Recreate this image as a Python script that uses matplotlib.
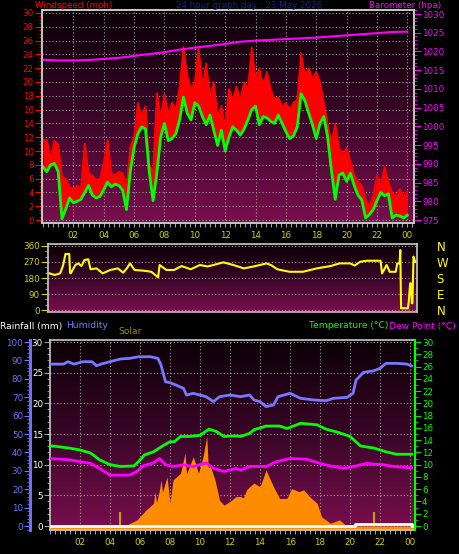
import numpy as np
import matplotlib
matplotlib.use('Agg')
import matplotlib.pyplot as plt
from matplotlib.colors import LinearSegmentedColormap
from matplotlib.ticker import MultipleLocator, FixedLocator

# wind, 15 minute readings from 00:00 to 24:00
wind_hours = np.arange(0, 24.01, 0.25)
wind_avg = [7.7, 7.0, 8.0, 8.2, 7.0, 0.2, 1.6, 3.2, 2.5, 2.7, 3.0, 4.0, 5.0, 3.6, 3.2, 3.4,
            4.4, 5.5, 4.8, 5.2, 5.0, 4.3, 1.5, 7.0, 10.5, 12.5, 13.5, 13.2, 7.0, 2.8, 6.8, 12.0,
            14.0, 11.5, 11.8, 12.5, 14.5, 17.8, 15.5, 14.5, 17.0, 16.5, 15.0, 13.8, 15.2, 13.0, 10.8, 13.0,
            10.0, 12.0, 13.5, 13.0, 12.3, 13.2, 14.5, 16.0, 16.5, 13.8, 15.0, 14.8, 14.3, 14.0, 15.2, 14.0,
            12.8, 11.8, 12.2, 13.5, 18.3, 17.3, 15.5, 13.8, 11.8, 14.0, 15.0, 12.0, 7.2, 3.0, 6.5, 6.8,
            5.6, 6.8, 5.0, 3.6, 2.9, 0.3, 0.8, 1.5, 2.8, 4.0, 3.5, 3.8, 0.3, 0.7, 0.6, 0.3,
            0.7]
wind_gust = [11.6, 11.6, 9.0, 11.5, 11.0, 6.3, 6.0, 4.8, 4.5, 5.0, 4.6, 11.1, 6.8, 6.5, 5.8, 6.0,
             8.3, 11.6, 6.8, 6.5, 7.0, 6.8, 4.8, 10.6, 12.0, 17.0, 15.0, 16.5, 8.0, 7.0, 18.4, 15.0,
             18.2, 15.5, 17.0, 16.0, 19.3, 25.1, 21.0, 19.0, 20.0, 25.0, 19.5, 22.7, 18.0, 20.0, 15.0, 16.5,
             13.5, 19.0, 17.5, 19.3, 17.5, 20.0, 19.0, 25.0, 20.5, 22.0, 19.5, 21.5, 19.0, 17.5, 17.8, 16.5,
             17.0, 16.0, 17.0, 17.5, 24.2, 21.0, 22.0, 20.5, 21.5, 20.0, 17.0, 14.0, 11.0, 14.0, 10.5, 9.5,
             10.5, 8.5, 6.5, 5.5, 5.0, 3.0, 2.0, 3.5, 6.5, 5.0, 7.7, 5.5, 4.0, 3.5, 4.5, 3.5,
             4.2]

baro_hours = list(range(25))
baro = [1017.8, 1017.6, 1017.6, 1017.7, 1018.0, 1018.3, 1018.8, 1019.3, 1019.8, 1020.5,
        1021.0, 1021.5, 1022.0, 1022.6, 1022.9, 1023.1, 1023.3, 1023.5, 1023.7, 1024.0,
        1024.3, 1024.6, 1024.9, 1025.2, 1025.3]

dir_hours = [0.0, 0.35, 0.7, 0.9, 1.05, 1.1, 1.3, 1.35, 1.4, 1.7, 1.9, 2.1, 2.3, 2.55, 2.7, 3.1,
             3.5, 4.0, 4.5, 4.85, 5.1, 5.3, 5.6, 6.2, 6.7, 7.15, 7.25, 7.7, 8.2, 8.7, 9.3, 9.9,
             10.4, 10.8, 11.45, 12.1, 12.8, 13.4, 14.3, 14.6, 15.0, 15.8, 16.7, 17.6, 18.5, 19.1,
             19.8, 20.1, 20.45, 20.9, 21.8, 21.85, 21.9, 22.2, 22.4, 22.8, 22.9, 23.05, 23.1, 23.15,
             23.6, 23.65, 23.75, 23.8, 23.86, 23.9, 23.97, 24.08]
dir_deg = [206, 197, 206, 253, 315, 315, 315, 210, 206, 253, 262, 247, 281, 285, 229, 234,
           206, 225, 234, 210, 235, 262, 225, 221, 215, 184, 253, 225, 225, 247, 229, 253,
           245, 253, 268, 253, 234, 244, 262, 252, 229, 215, 215, 234, 247, 262,
           262, 250, 271, 277, 277, 240, 206, 253, 215, 215, 262, 262, 337, 10,
           10, 40, 150, 150, 38, 38, 300, 271]

hum_hours = [0.0, 0.9, 1.2, 1.6, 2.2, 2.8, 3.1, 3.4, 4.0, 4.7, 5.3, 5.9, 6.7, 7.2, 7.4, 7.7,
             8.0, 8.4, 8.9, 9.1, 9.55, 10.0, 10.4, 10.9, 11.3, 12.0, 12.7, 13.3, 13.6, 14.0,
             14.4, 14.9, 15.2, 16.0, 16.7, 17.6, 18.4, 18.9, 19.8, 20.2, 20.4, 20.9, 21.6, 22.0,
             22.4, 23.1, 23.8, 24.1]
humidity = [88, 88, 89.3, 88, 89.3, 89.3, 87.1, 88, 89.3, 90.8, 91.1, 92, 92, 91.1, 87.5, 78.4,
            77.9, 76.6, 74.8, 71.2, 72.1, 71.2, 70.3, 67.6, 70.3, 71.2, 70.3, 71.2, 68.5, 67.6,
            64.9, 65.8, 70.3, 72.1, 69.4, 68.5, 68.1, 69.4, 69.9, 72.1, 79.3, 83.5, 84.4, 85.7,
            88.4, 88.4, 88, 87]

temp_hours = [0.0, 1.3, 2.0, 2.7, 3.3, 4.0, 4.7, 5.6, 5.9, 6.3, 6.9, 7.6, 8.0, 8.3, 8.7, 9.3,
              10.0, 10.6, 11.1, 11.6, 12.4, 12.7, 13.3, 13.6, 14.4, 15.3, 15.8, 16.7, 17.8, 18.4,
              19.3, 20.0, 20.7, 21.6, 22.4, 23.1, 24.1]
temperature = [13.1, 12.7, 12.4, 11.9, 10.8, 10.0, 9.7, 9.8, 10.5, 11.6, 12.1, 13.2, 13.75, 13.75,
               14.6, 14.6, 14.8, 15.8, 15.4, 14.6, 14.7, 14.6, 15.1, 15.7, 16.3, 16.3, 15.9, 16.75,
               16.5, 15.8, 15.2, 14.6, 13.05, 12.7, 12.1, 11.7, 11.7]

dew_hours = [0.0, 1.3, 2.0, 2.7, 3.3, 4.0, 4.7, 5.3, 5.8, 6.2, 6.9, 7.3, 7.7, 8.2, 8.9, 9.55,
             10.4, 10.9, 11.6, 12.4, 12.7, 13.3, 13.6, 14.4, 15.1, 16.0, 17.1, 18.0, 18.7, 19.6,
             20.4, 21.1, 22.2, 22.9, 24.1]
dew_point = [11.0, 10.8, 10.5, 10.2, 9.4, 8.3, 8.3, 8.3, 8.9, 9.8, 10.3, 11.0, 10.0, 9.7, 10.0, 9.7,
             10.3, 9.4, 8.9, 9.4, 9.1, 9.7, 9.7, 9.7, 10.5, 11.0, 10.9, 10.2, 9.8, 9.4,
             9.8, 10.2, 10.0, 9.7, 9.5]

# solar is drawn on the 0-30 scale of the lower graph
solar_hours = [0.0, 5.0, 5.1, 5.8, 6.4, 6.9, 7.0, 7.1, 7.3, 7.4, 7.5, 7.8, 8.0, 8.2, 8.7, 9.0,
               9.1, 9.3, 9.55, 9.9, 10.2, 10.45, 10.55, 10.7, 11.0, 11.3, 11.6, 12.0, 12.4, 12.7,
               12.9, 13.1, 13.3, 13.6, 14.0, 14.4, 14.9, 15.3, 15.8, 16.1, 16.6, 16.9, 17.3, 17.8,
               18.1, 18.7, 19.3, 19.7, 20.0, 24.3]
solar = [0, 0, 0.15, 1.0, 2.6, 3.7, 5.6, 3.8, 5.9, 7.5, 5.5, 8.0, 3.7, 7.5, 8.6, 11.9,
         8.5, 9.7, 11.3, 8.6, 11.3, 14.6, 9.5, 9.7, 7.5, 4.2, 3.4, 4.0, 4.8, 4.8,
         4.6, 5.9, 6.4, 7.0, 6.4, 9.1, 6.4, 4.5, 4.5, 6.1, 5.6, 5.9, 4.8, 3.7,
         1.5, 0.45, 1.0, 0.15, 0, 0]
solar_spike_hours = [4.67, 21.6]
solar_spikes = [2.3, 2.3]

rain_hours = [0.0, 20.3, 24.0, 24.1]
rainfall = [0.0, 0.25, 0.25, 0.0]

hour_ticks = list(range(2, 25, 2))
hour_labels = ['%02d' % (h % 24) for h in hour_ticks]
dir_ticks = [0, 90, 180, 270, 360]
compass = ['N', 'E', 'S', 'W', 'N']

W, H = 460, 554
BG = LinearSegmentedColormap.from_list('bg', ['#0a0006', '#3a0628', '#7a0e4e'])
FRAME = '#c8c8c8'
HOUR_COLOR = '#d8d000'
FS = 6.3


def box(x0, y0, x1, y1):
    """Turns a pixel box of the 460x554 picture into figure fractions"""
    return [x0 / W, 1 - y1 / H, (x1 - x0) / W, (y1 - y0) / H]


def gradient(ax):
    """Paints the dark to crimson background of a graph"""
    x0, x1 = ax.get_xlim()
    y0, y1 = ax.get_ylim()
    ax.imshow(np.linspace(0, 1, 256).reshape(-1, 1), cmap=BG, aspect='auto',
              extent=(x0, x1, y0, y1), origin='upper', zorder=0)
    ax.set_xlim(x0, x1)
    ax.set_ylim(y0, y1)


def frame(ax):
    for s in ax.spines.values():
        s.set_color(FRAME)
        s.set_linewidth(1.2)


def hour_axis(ax, labels=True):
    ax.xaxis.set_major_locator(FixedLocator(hour_ticks))
    ax.xaxis.set_minor_locator(MultipleLocator(1 / 3))
    if labels:
        ax.set_xticklabels(hour_labels)
    else:
        ax.set_xticklabels([])
    ax.tick_params(axis='x', which='both', colors='#a0a0a0', labelcolor=HOUR_COLOR,
                   labelsize=FS, length=3, width=0.8, pad=3)


def wind_graph(fig):
    """Windspeed and barometer graph"""
    ax = fig.add_axes(box(42, 10, 414, 223))
    ax.set_xlim(-0.066, 24.44)
    ax.set_ylim(-0.43, 30.43)
    gradient(ax)
    ax.grid(True, color='#9a9a9a', linestyle=(0, (1, 2)), linewidth=0.8, zorder=1)
    ax.fill_between(wind_hours, wind_avg, wind_gust, color='#ff0000', lw=0, zorder=2)
    ax.plot(wind_hours, wind_gust, color='#ff0000', lw=1.2, zorder=2)
    ax.plot(wind_hours, wind_avg, color='#00ff00', lw=2, zorder=3)
    hour_axis(ax)
    ax.yaxis.set_major_locator(MultipleLocator(2))
    ax.yaxis.set_minor_locator(MultipleLocator(0.5))
    ax.tick_params(axis='y', which='both', colors='#ff0000', labelsize=FS, pad=1)
    ax.tick_params(axis='y', which='major', length=5)
    ax.tick_params(axis='y', which='minor', length=2.5)
    frame(ax)

    bx = ax.twinx()
    bx.set_ylim(974.2, 1031.07)
    bx.plot(baro_hours, baro, color='#ff00ff', lw=1.5)
    bx.yaxis.set_major_locator(MultipleLocator(5))
    bx.yaxis.set_minor_locator(MultipleLocator(1))
    bx.tick_params(axis='y', which='both', colors='#ff00ff', labelsize=FS, pad=1)
    bx.tick_params(axis='y', which='major', length=5)
    bx.tick_params(axis='y', which='minor', length=2.5)
    frame(bx)


def direction_graph(fig):
    """Wind direction graph"""
    ax = fig.add_axes(box(48, 244, 417, 312))
    ax.set_xlim(-0.1, 24.2)
    ax.set_ylim(-11, 371)
    gradient(ax)
    ax.set_yticks(dir_ticks)
    ax.yaxis.set_minor_locator(MultipleLocator(30))
    ax.grid(True, axis='y', color='#9a9a9a', linestyle=(0, (1, 2)), linewidth=0.8, zorder=1)
    ax.plot(dir_hours, dir_deg, color='#ffff00', lw=1.5, zorder=3)
    ax.set_xticks([])
    ax.tick_params(axis='y', which='both', colors='#d8d000', labelsize=FS, pad=1)
    ax.tick_params(axis='y', which='major', length=5)
    ax.tick_params(axis='y', which='minor', length=2.5)
    frame(ax)
    ax.spines['bottom'].set_color('#e0a8c8')

    cx = ax.twinx()
    cx.set_ylim(-11, 371)
    cx.set_yticks(dir_ticks)
    cx.set_yticklabels(compass)
    cx.tick_params(axis='y', length=0, pad=14, labelcolor='#ffff00', labelsize=8.5)
    for s in cx.spines.values():
        s.set_visible(False)


def weather_graph(fig):
    """Humidity, solar, rainfall, temperature and dew point graph"""
    ax = fig.add_axes(box(50, 340, 415, 530))
    ax.set_xlim(0, 24.33)
    ax.set_ylim(-0.65, 30.33)
    gradient(ax)
    ax.yaxis.set_major_locator(MultipleLocator(3))
    ax.grid(True, color='#9a9a9a', linestyle=(0, (1, 2)), linewidth=0.8, zorder=1)
    ax.fill_between(solar_hours, -0.65, solar, color='#ff8c00', lw=0, zorder=2)
    ax.vlines(solar_spike_hours, -0.65, solar_spikes, color='#c8a000', lw=1.5, zorder=2)
    ax.step(rain_hours, rainfall, where='post', color='white', lw=2, zorder=3)
    ax.plot(dew_hours, dew_point, color='#ff00ff', lw=2, zorder=4)
    ax.plot(temp_hours, temperature, color='#00ff00', lw=2, zorder=4)
    hour_axis(ax)
    ax.yaxis.set_major_locator(MultipleLocator(5))
    ax.yaxis.set_minor_locator(MultipleLocator(1))
    ax.tick_params(axis='y', which='both', colors='#a0a0a0', labelcolor='white',
                   labelsize=FS, pad=1)
    ax.tick_params(axis='y', which='major', length=4)
    ax.tick_params(axis='y', which='minor', length=2)
    frame(ax)

    hx = ax.twinx()
    hx.set_ylim(-0.65 * 100 / 30, 30.33 * 100 / 30)
    hx.plot(hum_hours, humidity, color='#7878ff', lw=2)
    hx.yaxis.tick_left()
    hx.spines['left'].set_position(('outward', 14.4))
    for name in ['right', 'top', 'bottom']:
        hx.spines[name].set_visible(False)
    hx.spines['left'].set_color('#7070ff')
    hx.spines['left'].set_linewidth(2.2)
    hx.yaxis.set_major_locator(MultipleLocator(10))
    hx.yaxis.set_minor_locator(MultipleLocator(2))
    hx.tick_params(axis='y', which='both', colors='#7070ff', labelsize=FS, pad=1)
    hx.tick_params(axis='y', which='major', length=4)
    hx.tick_params(axis='y', which='minor', length=2)

    tx = ax.twinx()
    tx.set_ylim(-0.65, 30.33)
    tx.yaxis.set_major_locator(MultipleLocator(2))
    tx.yaxis.set_minor_locator(MultipleLocator(1))
    tx.tick_params(axis='y', which='both', colors='#00e000', labelcolor='#00ff00',
                   labelsize=FS, pad=1)
    tx.tick_params(axis='y', which='major', length=4)
    tx.tick_params(axis='y', which='minor', length=2)
    for name in ['left', 'top', 'bottom']:
        tx.spines[name].set_visible(False)
    tx.spines['right'].set_color('#00ff00')
    tx.spines['right'].set_linewidth(1.5)


def titles(fig):
    fs = 6.3
    fig.text(35 / W, 1 - 5 / H, 'Windspeed (mph)', color='#ff0000', fontsize=fs, va='center')
    fig.text(249 / W, 1 - 5 / H, '24 hour graph day : 23 May 2026', color='#1c1c9c',
             fontsize=fs, va='center', ha='center')
    fig.text(441 / W, 1 - 5 / H, 'Barometer (hpa)', color='#ff00ff', fontsize=fs,
             va='center', ha='right')
    fig.text(0, 1 - 326 / H, 'Rainfall (mm)', color='white', fontsize=6.6, va='center')
    fig.text(66 / W, 1 - 326 / H, 'Humidity', color='#7878ff', fontsize=6.6, va='center')
    fig.text(118 / W, 1 - 331 / H, 'Solar', color='#a08c00', fontsize=6.6, va='center')
    fig.text(388 / W, 1 - 326 / H, 'Temperature (°C)', color='#00ff00', fontsize=6.6,
             va='center', ha='right')
    fig.text(389 / W, 1 - 326 / H, 'Dew Point (°C)', color='#ff00ff', fontsize=6.6, va='center')


def main():
    fig = plt.figure(figsize=(W / 100, H / 100), dpi=100, facecolor='black')
    wind_graph(fig)
    direction_graph(fig)
    weather_graph(fig)
    titles(fig)
    fig.savefig('out.png', dpi=100, facecolor='black')


if __name__ == '__main__':
    main()
